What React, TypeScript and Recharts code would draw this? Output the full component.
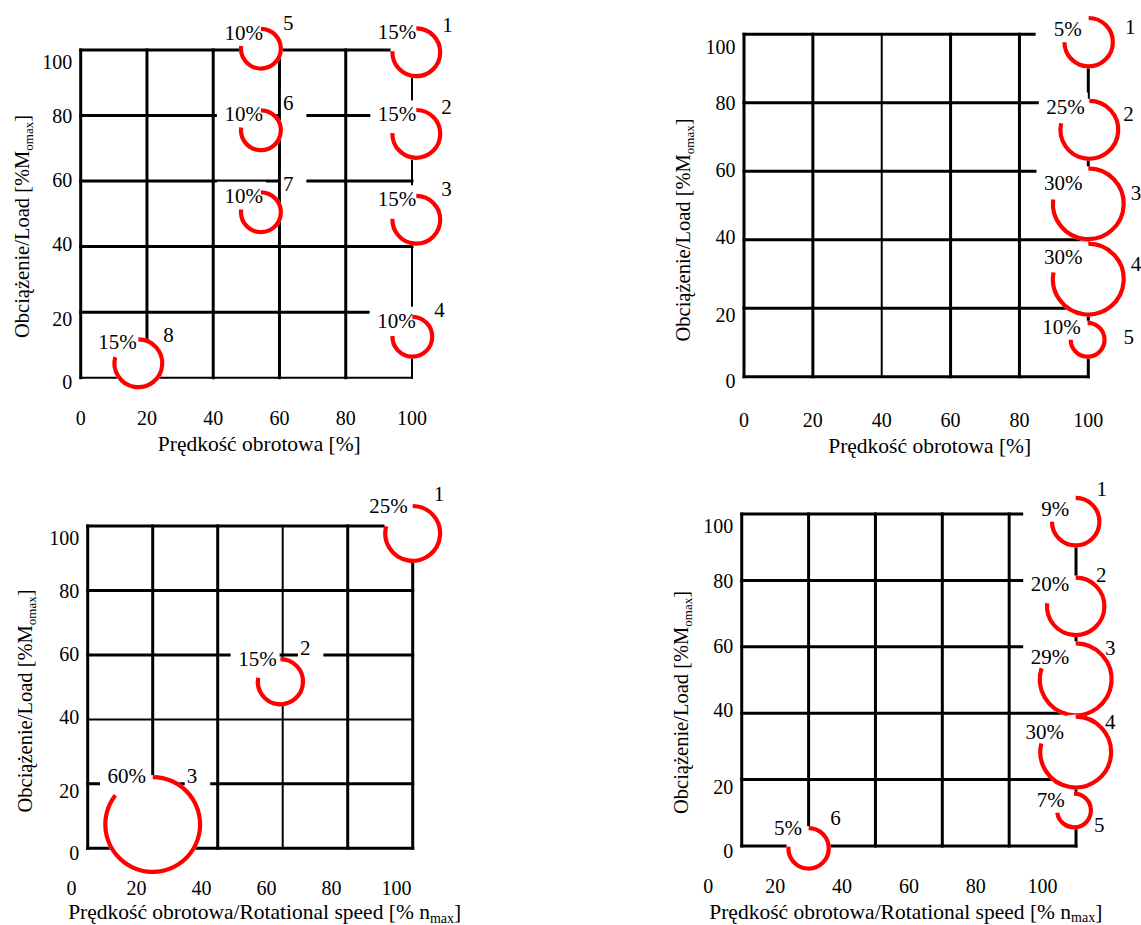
import React from 'react';
import { ScatterChart, Scatter, XAxis, YAxis, ReferenceLine } from 'recharts';

// ---------------- DATA ----------------
const TICKS = [0, 20, 40, 60, 80, 100];

// Panel A (top left)
const A_SPEED = [101.3, 101.3, 101.3, 100.1, 54.4, 54.4, 54.4, 17.4];
const A_LOAD = [99.3, 74.4, 48.2, 12.5, 100.4, 75.5, 50.5, 4.4];
const A_SHARE = ['15%', '15%', '15%', '10%', '10%', '10%', '10%', '15%'];
const A_ID = ['1', '2', '3', '4', '5', '6', '7', '8'];
const A_GRID_X = [0, 20, 40, 60, 80, 100];
const A_GRID_Y = [0, 20, 40, 60, 80, 100];

// Panel B (top right)
const B_SPEED = [100.1, 100.3, 100, 100, 99.8];
const B_LOAD = [97.7, 72.1, 50.5, 28.5, 10.8];
const B_SHARE = ['5%', '25%', '30%', '30%', '10%'];
const B_ID = ['1', '2', '3', '4', '5'];
const B_GRID_X = [0, 20, 40, 60, 80, 100];
const B_GRID_Y = [0, 20, 40, 60, 80, 100];

// Panel C (bottom left)
const C_SPEED = [105, 64.3, 25];
const C_LOAD = [97.7, 51.7, 7.4];
const C_SHARE = ['25%', '15%', '60%'];
const C_ID = ['1', '2', '3'];
const C_GRID_X = [5, 25, 45, 65, 85, 105];
const C_GRID_Y = [0, 20, 40, 60, 80, 100];

// Panel D (bottom right)
const D_SPEED = [109.9, 109.9, 109.9, 109.9, 109.4, 30];
const D_LOAD = [97.7, 72.2, 50.2, 28.3, 10.7, -0.7];
const D_SHARE = ['9%', '20%', '29%', '30%', '7%', '5%'];
const D_ID = ['1', '2', '3', '4', '5', '6'];
const D_GRID_X = [10, 30, 50, 70, 90, 110];
const D_GRID_Y = [0, 20, 40, 60, 80, 100];

const X_TITLE_SHORT = ['Prędkość obrotowa [%]', '', ''];
const X_TITLE_LONG = ['Prędkość obrotowa/Rotational speed [% n', 'max', ']'];
const Y_TITLE = ['Obciążenie/Load [%M', 'omax', ']'];

// ---------------- STYLE / LAYOUT ----------------
const SERIF = '"Liberation Serif", "Times New Roman", Times, serif';
const RED = '#ff0000';
const Y_TICK_NUDGE = [5, 7.5, -2.5, -1, 0.5, 12.5];

const PANELS = [
  {
    key: 'A',
    box: { x: 0, y: 0, w: 570, h: 462 },
    x0: 80.7, kx: 3.313, y0: 377.7, ky: 3.277,
    xDomain: [0, 112], yDomain: [-5, 110],
    speed: A_SPEED, load: A_LOAD, share: A_SHARE, ids: A_ID,
    gridX: A_GRID_X, gridY: A_GRID_Y,
    thinX: [100], thinY: [0],
    radius: [26, 26, 26, 22, 22, 22, 22, 26],
    arcEnd: [3, 2, 2, 2, 8, 8, 8, 15],
    labels: [
      [0, -20, 26, -27], [0, -19.5, 25, -27], [0, -20.5, 25, -30.5], [3.3, -16, 22, -27],
      [2, -16, 22, -26], [2, -16, 22, -27], [2, -16.5, 22, -28], [-1.6, -21, 25, -28],
    ],
    xTickBase: 425, xTitle: X_TITLE_SHORT, xTitlePos: [259.3, 450.5],
    yTitlePos: [29, 226.5],
  },
  {
    key: 'B',
    box: { x: 571, y: 0, w: 570, h: 462 },
    x0: 744, kx: 3.443, y0: 376.7, ky: 3.424,
    xDomain: [0, 112], yDomain: [-5, 110],
    speed: B_SPEED, load: B_LOAD, share: B_SHARE, ids: B_ID,
    gridX: B_GRID_X, gridY: B_GRID_Y,
    thinX: [40], thinY: [],
    radius: [26.3, 31, 37.5, 37.5, 19],
    arcEnd: [0, 13, 7, 11, 0],
    labels: [
      [-7, -13, 36.3, -14.7], [-4.5, -23.3, 33.8, -15.8], [-5.8, -21.2, 42.5, -11.2],
      [-5.8, -22, 42.5, -15], [-6.8, -12.3, 35.8, -3.1],
    ],
    xTickBase: 426.7, xTitle: X_TITLE_SHORT, xTitlePos: [358.7, 453],
    yTitlePos: [119, 230],
  },
  {
    key: 'C',
    box: { x: 0, y: 463, w: 570, h: 462 },
    x0: 71.45, kx: 3.25, y0: 848.3, ky: 3.223,
    xDomain: [0, 115], yDomain: [-10, 110],
    speed: C_SPEED, load: C_LOAD, share: C_SHARE, ids: C_ID,
    gridX: C_GRID_X, gridY: C_GRID_Y,
    thinX: [65], thinY: [40],
    radius: [29.5, 24.7, 49.5],
    arcEnd: [15, 10, 38],
    labels: [[-4.9, -27.2, 21, -39.7], [-3.8, -23, 19.5, -33.8], [-6.7, -48.5, 34, -48.5]],
    xTickBase: 432, xTitle: X_TITLE_LONG, xTitlePos: [264.7, 456],
    yTitlePos: [32, 238],
  },
  {
    key: 'D',
    box: { x: 571, y: 463, w: 570, h: 462 },
    x0: 708.3, kx: 3.343, y0: 846, ky: 3.32,
    xDomain: [0, 128], yDomain: [-10, 110],
    speed: D_SPEED, load: D_LOAD, share: D_SHARE, ids: D_ID,
    gridX: D_GRID_X, gridY: D_GRID_Y,
    thinX: [], thinY: [],
    radius: [25.8, 30.8, 38, 37.5, 19, 22.3],
    arcEnd: [0, 6, 18, 14, -8, 5],
    labels: [
      [-6.5, -12.7, 20.9, -32.5], [-6.5, -22.1, 20.2, -31.3], [-6.5, -22.7, 29.2, -31.2],
      [-11.8, -20.5, 29.2, -30.5], [-9.2, -10.3, 20.1, 14.5], [-6.6, -20.8, 21.7, -30],
    ],
    xTickBase: 430.3, xTitle: X_TITLE_LONG, xTitlePos: [334.8, 455.5],
    yTitlePos: [116.5, 239.5],
  },
];

const YW = 40;
const XH = 30;

function Panel({ p }: { p: any }) {
  const { box, x0, kx, y0, ky, xDomain, yDomain } = p;
  const plotLeft = x0 + xDomain[0] * kx;
  const plotRight = x0 + xDomain[1] * kx;
  const plotTop = y0 - yDomain[1] * ky;
  const plotBottom = y0 - yDomain[0] * ky;
  const margin = {
    left: plotLeft - box.x - YW,
    right: box.x + box.w - plotRight,
    top: plotTop - box.y,
    bottom: box.y + box.h - plotBottom - XH,
  };
  const frameLeftLocal = x0 + p.gridX[0] * kx - box.x;
  const rows = p.speed.map((x: number, i: number) => ({
    x, y: p.load[i], share: p.share[i], id: p.ids[i], idx: i,
  }));
  const gx = p.gridX;
  const gy = p.gridY;

  const xTick = (props: any) => (
    <text x={props.x} y={p.xTickBase} textAnchor="middle" fontFamily={SERIF} fontSize={20} fill="#000">
      {props.payload.value}
    </text>
  );
  const yTick = (props: any) => {
    const k = TICKS.indexOf(props.payload.value);
    return (
      <text x={frameLeftLocal - 8.5} y={props.y + 6.7 + (Y_TICK_NUDGE[k] || 0)} textAnchor="end"
        fontFamily={SERIF} fontSize={20} fill="#000">
        {props.payload.value}
      </text>
    );
  };
  const xTitle = () => (
    <text x={p.xTitlePos[0]} y={p.xTitlePos[1]} textAnchor="middle" fontFamily={SERIF} fontSize={21.5} fill="#000">
      {p.xTitle[0]}
      {p.xTitle[1] ? <tspan fontSize={14} dy={3.5}>{p.xTitle[1]}</tspan> : null}
      {p.xTitle[2] ? <tspan dy={-3.5}>{p.xTitle[2]}</tspan> : null}
    </text>
  );
  const yTitle = () => {
    const [tx, ty] = p.yTitlePos;
    return (
      <text x={tx} y={ty} transform={`rotate(-90 ${tx} ${ty})`} textAnchor="middle" fontFamily={SERIF}
        fontSize={20.5} fill="#000">
        {Y_TITLE[0]}
        <tspan fontSize={13} dy={4}>{Y_TITLE[1]}</tspan>
        <tspan dy={-4}>{Y_TITLE[2]}</tspan>
      </text>
    );
  };

  const boxShape = (props: any) => {
    const { cx, cy, payload } = props;
    const [pdx, pdy, ndx, ndy] = p.labels[payload.idx];
    const pr = cx + pdx;
    const pc = cy + pdy;
    const nl = cx + ndx;
    const nc = cy + ndy;
    return (
      <g>
        <rect x={pr - 46} y={pc - 14} width={49} height={28} fill="#fff" />
        <rect x={nl - 2} y={nc - 14} width={payload.id.length * 10.5 + 15} height={28} fill="#fff" />
      </g>
    );
  };
  const circleShape = (props: any) => {
    const { cx, cy, payload } = props;
    const rOut = p.radius[payload.idx];
    const r = rOut - 2.1;
    const e = (p.arcEnd[payload.idx] * Math.PI) / 180;
    const sx = cx;
    const sy = cy - r;
    const ex = cx - r * Math.cos(e);
    const ey = cy - r * Math.sin(e);
    return (
      <g>
        <circle cx={cx} cy={cy} r={rOut} fill="#fff" />
        <path d={`M${sx},${sy} A${r},${r} 0 1 1 ${ex},${ey}`} fill="none" stroke={RED} strokeWidth={4.2} />
      </g>
    );
  };
  const textShape = (props: any) => {
    const { cx, cy, payload } = props;
    const [pdx, pdy, ndx, ndy] = p.labels[payload.idx];
    return (
      <g>
        <text x={cx + pdx} y={cy + pdy + 7} textAnchor="end" fontFamily={SERIF} fontSize={21} fill="#000">
          {payload.share}
        </text>
        <text x={cx + ndx} y={cy + ndy + 7} textAnchor="start" fontFamily={SERIF} fontSize={21} fill="#000">
          {payload.id}
        </text>
      </g>
    );
  };

  return (
    <div style={{ position: 'absolute', left: box.x, top: box.y, width: box.w, height: box.h }}>
      <ScatterChart width={box.w} height={box.h} margin={margin}>
        <XAxis type="number" dataKey="x" domain={xDomain} ticks={TICKS} interval={0} axisLine={false}
          tickLine={false} height={XH} tick={xTick} label={{ content: xTitle }} />
        <YAxis type="number" dataKey="y" domain={yDomain} ticks={TICKS} interval={0} axisLine={false}
          tickLine={false} width={YW} tick={yTick} label={{ content: yTitle }} />
        {gx.map((v: number) => (
          <ReferenceLine key={`vx${v}`} segment={[{ x: v, y: gy[0] }, { x: v, y: gy[gy.length - 1] }]}
            stroke="#000" strokeWidth={p.thinX.includes(v) ? 2 : 3} strokeLinecap="square" />
        ))}
        {gy.map((v: number) => (
          <ReferenceLine key={`hy${v}`} segment={[{ x: gx[0], y: v }, { x: gx[gx.length - 1], y: v }]}
            stroke="#000" strokeWidth={p.thinY.includes(v) ? 2 : 3} strokeLinecap="square" />
        ))}
        <Scatter data={rows} shape={boxShape} isAnimationActive={false} />
        <Scatter data={rows} shape={circleShape} isAnimationActive={false} />
        <Scatter data={rows} shape={textShape} isAnimationActive={false} />
      </ScatterChart>
    </div>
  );
}

export default function App() {
  return (
    <div style={{ position: 'absolute', left: 0, top: 0, width: 1141, height: 925, background: '#fff' }}>
      {PANELS.map((p) => (
        <Panel key={p.key} p={p} />
      ))}
    </div>
  );
}
